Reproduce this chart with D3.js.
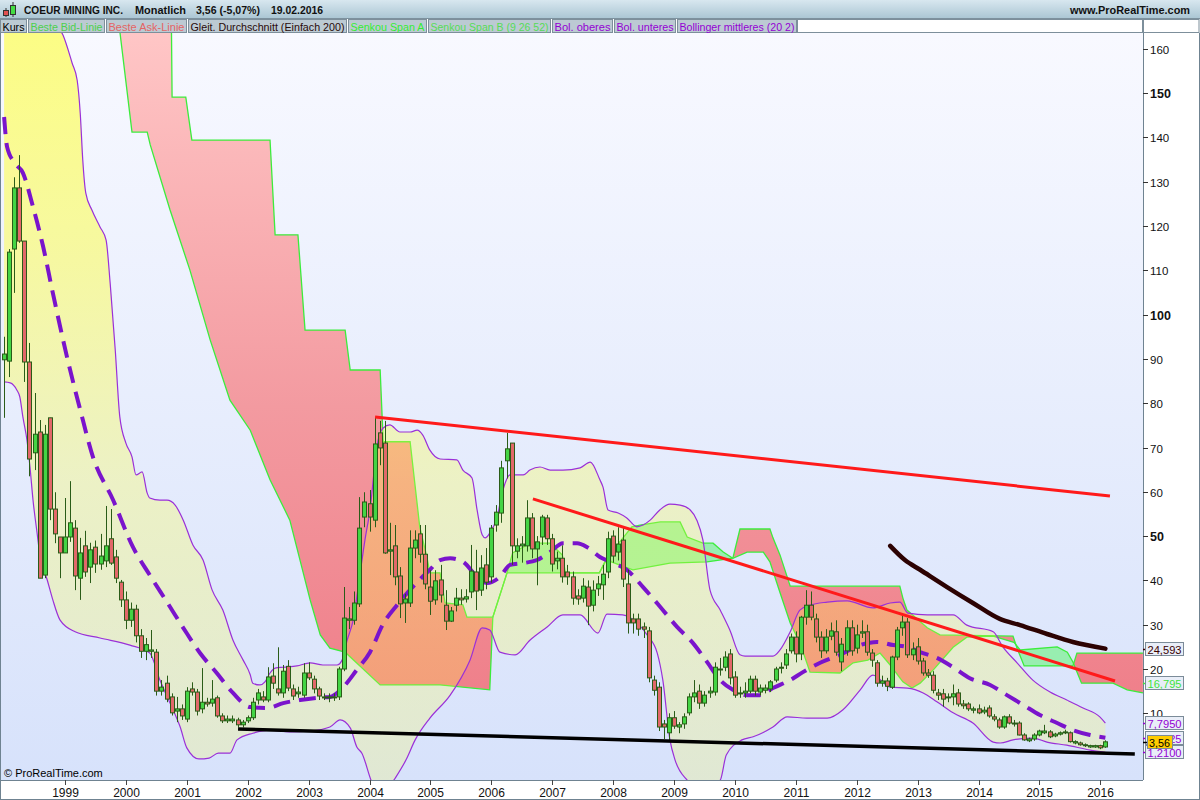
<!DOCTYPE html>
<html><head><meta charset="utf-8">
<script src="https://cdn.jsdelivr.net/npm/d3@7"></script>
<style>
html,body{margin:0;padding:0;background:#fff;overflow:hidden;}
svg{display:block;font-family:"Liberation Sans",Arial,sans-serif;}
</style></head><body>
<svg id="c" width="1200" height="800"></svg>
<script>
// ---------- DATA (monthly candles, index 0 = Jan 1998) ----------
const startYear = 1998;
const yearTicks = [1999,2000,2001,2002,2003,2004,2005,2006,2007,2008,2009,2010,2011,2012,2013,2014,2015,2016];
const priceTicks = [10,20,30,40,50,60,70,80,90,100,110,120,130,140,150,160];
const boldTicks = [50,100,150];

const opens = [89.8,89.5,114.8,128.6,116.6,89.3,68.8,73.5,41.2,76.7,56.1,49.8,46.2,49.8,51.8,40.5,47.8,43.0,47.5,43.7,
44.4,49.4,45.3,39.6,35.6,31.0,33.5,27.5,24.0,24.0,23.8,15.0,16.8,13.7,10.5,11.0,8.7,15.5,14.8,11.0,
12.5,12.3,13.5,9.4,8.3,8.3,8.5,7.4,8.3,9.0,13.0,13.7,13.0,18.4,15.5,14.6,20.6,15.5,14.4,14.1,
19.1,17.7,15.5,13.7,13.5,13.5,13.7,20.0,31.0,31.0,34.7,54.3,57.3,53.6,73.3,71.0,46.6,47.8,41.0,34.9,
34.9,47.3,50.5,45.9,38.5,35.6,40.1,34.4,30.8,34.4,36.0,35.8,37.4,41.9,37.8,43.5,40.8,52.5,55.2,67.0,
71.0,46.6,47.8,47.8,54.1,47.1,49.8,54.1,49.4,44.4,45.0,41.9,40.8,36.5,36.0,38.5,34.4,38.1,39.0,41.9,
50.0,46.4,49.1,39.2,31.3,31.3,29.5,28.6,17.5,15.9,7.6,5.6,9.0,6.9,7.6,10.1,13.7,15.0,12.3,14.6,
14.8,19.8,20.4,23.4,18.2,14.4,14.6,15.0,17.7,14.8,15.2,15.5,17.5,20.2,20.9,24.1,27.2,23.4,31.7,34.4,
31.3,27.2,24.1,27.4,28.4,21.6,24.1,29.3,24.7,28.1,28.4,23.6,21.4,16.8,17.3,15.9,22.7,29.3,30.6,23.2,
25.0,21.8,19.1,18.6,14.6,14.4,13.5,13.7,14.6,12.1,12.1,10.7,11.0,10.3,11.2,9.2,8.5,6.9,9.2,7.6,
7.8,5.1,3.8,4.2,5.1,5.6,5.8,4.9,5.3,5.6,5.6,3.3,3.3,2.7,2.4,2.4,2.7,2.4];
const highs = [95.0,114.8,131.0,136.0,116.6,93.6,82.3,76.2,75.1,76.7,59.9,49.8,58.6,62.4,53.6,49.6,51.2,48.5,49.0,50.5,
56.8,56.1,46.9,40.1,37.5,35.0,34.5,29.0,27.0,28.8,24.5,17.5,18.5,14.5,13.7,12.0,15.9,17.0,15.5,20.2,
13.5,17.5,14.0,10.0,9.5,9.5,9.0,8.5,9.5,13.5,15.5,15.0,20.4,21.3,24.9,20.9,22.0,16.5,16.0,21.3,
21.5,18.5,16.0,14.5,14.5,14.5,20.5,38.5,34.0,37.5,58.8,59.9,60.4,76.9,76.0,76.0,53.0,52.5,43.0,37.0,
51.3,51.3,52.5,52.5,42.3,42.3,43.5,37.8,34.0,38.3,38.0,38.0,48.0,46.9,45.7,47.3,52.5,57.0,67.0,73.3,
71.0,49.5,50.0,58.1,55.2,50.0,54.8,54.8,50.5,46.5,47.9,43.5,42.0,38.0,40.5,40.0,40.0,41.0,43.5,51.0,
51.3,52.0,52.0,42.4,32.5,32.5,30.5,29.5,18.5,17.0,8.5,10.0,10.5,8.0,10.0,14.5,17.5,16.5,15.0,16.0,
21.5,22.5,24.0,24.5,19.5,16.0,17.0,18.5,18.5,16.5,16.5,17.5,20.5,21.5,24.5,28.0,28.5,32.0,37.8,37.5,
32.5,28.5,29.0,30.5,31.0,27.0,31.0,31.0,30.0,31.0,30.0,24.5,22.0,18.5,18.0,23.0,29.5,32.0,31.5,26.0,
27.0,22.5,20.0,19.5,15.5,15.5,14.5,16.5,15.5,13.0,12.5,11.5,12.0,11.5,11.8,9.8,9.0,9.5,9.8,8.5,
8.2,5.5,4.5,5.5,6.3,7.4,6.2,5.6,5.9,6.3,5.9,3.9,3.6,3.2,2.9,2.9,2.9,3.9];
const lows = [76.7,85.9,104.9,116.2,84.8,63.5,64.9,40.5,40.5,53.6,48.4,40.5,46.2,48.7,37.8,35.6,40.8,39.4,41.7,42.4,
43.0,43.5,39.4,34.0,29.0,29.5,26.0,22.5,22.0,22.5,14.0,14.0,12.5,9.5,8.0,8.5,8.0,14.0,9.5,10.0,
11.5,11.5,9.0,7.8,7.8,7.8,6.8,6.8,7.8,8.5,12.0,12.5,12.5,15.5,14.0,13.5,15.0,13.0,13.5,13.5,
17.5,14.5,13.0,13.0,12.5,12.8,13.0,19.5,29.0,30.0,34.0,52.0,51.0,52.0,66.0,46.0,41.2,38.9,31.5,30.4,
34.0,45.0,44.0,38.0,32.2,34.5,35.0,28.8,30.6,33.0,34.5,35.0,36.0,33.3,36.5,38.0,39.5,51.0,53.0,63.0,
43.5,45.0,44.0,46.5,45.0,38.9,48.0,48.0,42.0,42.5,39.5,39.0,34.5,34.5,35.0,29.9,33.0,36.5,35.6,40.5,
44.0,44.5,38.5,28.0,28.0,27.5,27.0,17.0,14.0,6.0,4.2,4.0,6.5,5.5,6.5,9.5,12.5,11.0,11.5,13.5,
14.0,18.5,19.5,16.5,13.5,13.5,13.5,14.5,14.0,14.0,14.5,14.8,17.0,19.0,20.0,23.5,21.5,22.0,30.0,31.0,
26.0,22.5,23.5,26.5,23.0,19.5,23.0,23.0,23.5,27.0,23.0,20.5,16.0,16.0,15.0,15.5,22.0,27.5,22.5,22.0,
21.0,18.5,18.0,14.5,13.0,11.5,12.5,11.8,11.5,11.0,10.5,10.0,9.8,9.8,9.0,8.2,6.5,6.5,7.5,7.0,
5.0,3.8,3.5,3.8,4.8,5.3,4.4,4.6,5.0,5.3,3.4,3.0,2.7,2.4,2.2,2.2,1.9,2.2];
const closes = [91.1,114.1,128.6,116.6,89.3,67.4,73.0,40.5,73.0,56.1,50.5,46.2,49.8,53.0,41.0,46.2,41.9,46.9,43.7,45.5,
47.8,43.9,40.5,35.6,31.0,33.5,27.5,24.0,25.5,24.3,15.0,15.9,13.2,10.1,11.0,9.4,15.0,14.8,10.5,12.5,
12.1,13.2,9.4,8.3,8.7,8.7,7.4,8.0,9.0,12.5,14.6,13.0,18.2,16.8,14.6,19.5,15.7,13.9,14.8,19.1,
18.0,15.5,13.9,13.5,13.7,13.7,20.0,31.5,31.3,34.9,51.8,57.7,54.3,70.8,69.9,46.2,46.9,40.8,34.7,35.8,
47.3,49.1,45.9,39.2,35.3,39.9,36.7,30.8,33.1,36.0,35.6,36.3,42.1,37.6,42.8,39.6,51.8,55.4,65.4,69.7,
47.8,47.8,48.2,54.1,47.1,48.7,54.3,49.4,43.7,45.0,40.8,40.8,36.0,35.8,38.7,34.2,37.8,39.2,41.4,49.4,
45.5,48.2,40.3,30.4,30.4,29.0,29.0,18.0,15.2,6.9,6.9,9.0,7.1,7.4,9.2,13.7,14.6,12.3,14.1,15.0,
20.4,20.0,22.7,18.0,14.1,14.6,15.0,17.7,15.0,15.7,15.7,17.1,20.0,20.4,23.4,27.2,23.4,31.7,34.4,31.7,
27.2,24.1,27.2,28.6,23.8,25.6,29.3,24.1,27.7,28.4,23.8,22.0,16.8,17.3,16.1,22.7,28.8,30.6,23.2,24.5,
21.8,19.1,18.6,15.2,14.1,13.2,13.7,14.4,12.1,11.7,11.0,11.0,10.1,10.7,9.4,8.7,6.9,9.2,7.8,7.8,
5.1,4.0,4.2,5.1,6.0,6.0,4.7,5.3,5.6,5.8,3.6,3.6,2.9,2.9,2.7,2.7,2.2,3.56];

// Bollinger bands (20,2): [month index, value]
const bolUpper = [[0,210],[9.0,166.5],[11.6,163.1],[13.4,156.8],[14.4,152.9],[15.0,145.5],[15.5,134.9],[16.1,127.4],[17.3,123.6],[18.9,119.8],[20.1,116.8],[20.9,107.1],[21.9,92.0],[22.8,76.9],[24.0,71.0],[25.2,67.9],[26.0,63.8],[27.2,64.5],[28.2,59.7],[28.7,58.6],[30.7,58.1],[32.1,58.1],[33.7,57.0],[35.3,53.6],[37.2,48.0],[39.2,44.6],[41.0,37.8],[43.1,33.3],[45.1,26.5],[47.1,22.0],[48.5,18.7],[49.0,16.8],[50.4,16.4],[51.4,17.1],[52.4,19.1],[53.4,20.2],[55.0,20.4],[57.7,20.7],[60.3,21.4],[62.8,20.9],[65.6,20.9],[66.6,22.0],[67.6,26.5],[68.8,31.1],[70.1,41.2],[71.1,49.1],[72.1,55.9],[73.5,70.5],[74.7,74.4],[76.0,75.1],[78.0,73.5],[80.0,73.5],[81.4,73.9],[82.5,72.8],[83.9,69.4],[85.9,67.4],[89.2,67.2],[90.4,64.9],[92.2,63.1],[93.2,55.9],[94.2,50.3],[94.8,49.6],[95.7,50.7],[97.1,54.1],[98.3,60.4],[99.7,63.8],[102.3,63.8],[103.6,64.9],[105.6,65.6],[107.6,64.9],[110.1,64.9],[113.5,65.4],[115.5,66.7],[117.4,62.7],[118.0,61.1],[119.0,55.9],[121.0,55.2],[122.7,54.1],[124.7,52.1],[125.9,52.5],[127.3,53.6],[129.2,55.9],[131.2,57.2],[133.2,57.0],[135.2,55.9],[136.5,53.6],[137.7,49.1],[139.1,37.8],[141.1,33.3],[143.0,28.8],[145.0,23.2],[146.0,22.9],[151.5,22.9],[152.9,24.3],[154.9,28.4],[156.8,33.3],[158.8,34.4],[162.2,35.1],[166.1,35.4],[171.2,33.8],[174.6,34.9],[176.5,35.1],[178.1,32.6],[181.9,32.2],[187.0,32.2],[189.7,29.9],[194.9,28.4],[196.8,25.0],[199.6,21.4],[202.7,17.5],[206.1,14.8],[209.4,13.0],[212.6,11.2],[215.9,9.2],[217,7.795]];
const bolLower = [[0,84.8],[1.2,84.6],[2.5,83.0],[3.1,81.4],[3.7,76.9],[4.5,71.7],[5.1,65.6],[5.7,58.1],[6.5,50.7],[7.1,45.3],[8.5,40.1],[9.6,35.6],[11.0,31.1],[14.0,28.4],[18.9,27.0],[24.8,25.4],[28.7,23.6],[30.7,17.5],[32.7,12.3],[34.7,6.9],[36.0,2.2],[38.4,-0.3],[40.4,-0.1],[42.2,1.0],[44.5,1.0],[45.9,4.0],[49.0,5.5],[52.4,6.2],[56.3,5.8],[60.3,6.0],[64.2,6.9],[66.2,8.5],[68.2,6.7],[69.5,2.4],[70.5,1.0],[72.3,-5.1],[74.1,-9.6],[76.8,-5.1],[79.2,-0.5],[81.0,4.0],[83.9,8.9],[87.9,14.1],[91.8,22.0],[94.2,29.3],[95.7,28.8],[97.7,23.8],[100.7,23.2],[103.6,26.5],[107.0,29.5],[110.1,32.2],[113.5,32.2],[117.0,28.1],[118.8,32.4],[121.9,32.2],[124.7,30.4],[126.7,27.7],[128.7,23.6],[129.8,17.5],[131.2,4.0],[132.2,-0.5],[134.6,-5.1],[137.1,-7.3],[141.1,-5.1],[142.3,0.6],[145.4,4.0],[147.6,4.7],[151.5,6.9],[154.3,9.2],[158.2,8.9],[162.2,8.9],[165.3,10.8],[168.7,15.3],[171.2,18.6],[174.6,15.9],[178.0,15.7],[181.1,14.6],[183.8,12.6],[187.0,10.1],[190.9,7.8],[194.9,3.5],[196.3,3.3],[198.8,4.0],[202.7,4.4],[205.5,3.5],[209.4,2.8],[214.0,1.7],[217,1.21]];
const bolMiddle = [[0,144.6],[0.6,137.8],[2.1,134.2],[3.7,132.0],[5.7,124.3],[7.7,115.3],[9.6,104.9],[12.4,90.4],[15.0,78.5],[17.5,67.9],[21.5,58.1],[25.4,47.5],[28.7,41.2],[32.1,35.1],[35.3,29.3],[38.6,23.6],[41.9,19.1],[45.1,14.6],[48.5,11.4],[51.8,11.2],[55.0,12.3],[58.3,13.0],[61.7,13.5],[64.2,13.7],[66.8,15.9],[69.5,19.8],[72.1,23.8],[74.7,30.2],[77.4,34.4],[81.4,39.6],[83.9,42.4],[85.9,44.6],[87.9,45.0],[90.4,44.2],[93.2,40.8],[95.2,39.4],[97.7,40.8],[99.7,43.5],[102.3,43.9],[105.0,44.6],[107.6,46.4],[110.1,48.4],[112.9,48.4],[114.9,47.5],[117.4,45.3],[119.4,44.2],[122.7,42.4],[125.9,38.5],[129.3,34.0],[132.6,29.5],[135.7,25.9],[138.5,21.6],[141.1,17.5],[143.6,15.3],[146.4,14.1],[148.9,14.1],[151.5,15.7],[154.9,17.5],[157.4,19.3],[160.8,21.4],[164.7,23.2],[168.7,25.4],[172.0,26.1],[175.2,25.4],[177.9,25.0],[180.5,23.8],[183.8,22.5],[187.0,20.4],[190.3,17.9],[194.3,16.4],[197.6,14.1],[200.8,11.9],[204.1,9.6],[207.5,7.8],[210.6,6.2],[214.0,5.1],[217,4.5025]];

// Ichimoku Senkou spans (9 26 52), displaced: [month index, value]
const senkouA = [[22.84,163.6],[25.2,141.2],[28.2,141.2],[28.8,138.3],[32.7,123.6],[36.6,110.1],[40.6,94.3],[44.5,80.7],[48.5,73.9],[52.4,62.7],[56.3,53.6],[60.3,35.6],[62.3,27.7],[64.2,24.7],[67.2,23.8],[74.1,16.4],[85.9,16.4],[95.7,15.3],[96.3,31.7],[99.1,41.7],[100.2,46.2],[103.7,48.4],[107.6,48.4],[110.0,45.7],[110.6,41.7],[117.3,41.7],[118.7,45.0],[123.7,52.1],[125.3,52.5],[129.3,53.2],[133.2,53.2],[134.6,49.8],[137.7,48.4],[139.7,48.4],[141.7,46.4],[143.6,45.0],[146.4,46.4],[149.6,46.4],[150.9,44.2],[152.9,37.2],[154.9,30.4],[156.8,25.9],[158.8,19.3],[164.7,19.1],[167.3,21.4],[170.2,22.0],[172.6,23.6],[174.6,20.9],[177.1,17.1],[178.9,15.7],[180.5,16.8],[183.1,19.8],[187.0,24.9],[189.7,27.2],[194.9,27.4],[199.0,26.0],[200.2,24.3],[207.5,25.0],[209.5,23.8],[210.6,21.6],[212.3,16.8],[218.5,16.8],[221.3,15.3],[224.4,14.6]];
const senkouB = [[22.84,200],[32.7,200],[33.1,149.1],[35.8,149.1],[37.0,139.4],[52.4,139.4],[53.4,118.0],[57.9,118.0],[59.3,96.5],[67.2,96.5],[68.2,87.5],[74.1,87.5],[74.7,71.3],[80.0,71.3],[81.9,52.1],[83.3,45.3],[83.9,41.7],[85.9,41.7],[86.9,34.9],[90.4,34.5],[91.2,31.7],[96.3,31.7],[99.1,41.7],[117.3,41.7],[118.7,44.6],[123.9,42.4],[129.3,43.5],[131.2,43.9],[138.5,44.2],[143.6,45.0],[145.0,51.6],[150.9,51.6],[151.5,49.6],[152.9,45.7],[154.3,40.8],[154.9,38.7],[176.5,38.7],[177.1,36.0],[177.9,33.3],[181.9,29.3],[184.4,27.7],[198.8,27.4],[199.6,24.7],[201.0,20.7],[210.6,20.7],[211.4,23.6],[224.4,23.6]];

// Simple moving average 200
const sma200 = [[174.6,47.8],[177.5,44.6],[180.5,42.4],[185.8,38.5],[190.9,34.9],[196.2,31.3],[200.2,29.9],[205.5,27.9],[210.6,26.1],[217,24.593]];

// Trend lines [month index, value]
const redLine1 = [[73.1,76.9],[217.9,59.05]];
const redLine2 = [[104.2,58.4],[218.9,17.3]];
const blackLine = [[46.1,6.46],[222.8,0.81]];

// right-side value labels
const valueLabels = [
  {v:24.593, t:"24,593", c:"#3a0000", bg:"#e9eef8"},
  {v:16.795, t:"16,795", c:"#3ee43e", bg:"#e9eef8"},
  {v:7.795,  t:"7,7950", c:"#9400d3", bg:"#e9eef8"},
  {v:4.5025, t:"4,5025", c:"#9400d3", bg:"#e9eef8"},
  {v:1.21,   t:"1,2100", c:"#9400d3", bg:"#e9eef8"},
  {v:3.56,   t:"3,56",   c:"#000000", bg:"#ffcc00"}
];
const headerTexts = [["COEUR MINING INC.",24,99],["Monatlich",135,51],["3,56 (-5,07%)",196,64],["19.02.2016",271,52]];
const legendItems = [
  {t:"Kurs", c:"#000000", x0:0, x1:27},
  {t:"Beste Bid-Linie", c:"#4cd04c", x0:28, x1:105},
  {t:"Beste Ask-Linie", c:"#e46464", x0:106, x1:187},
  {t:"Gleit. Durchschnitt (Einfach 200)", c:"#2a0a0a", x0:188, x1:347},
  {t:"Senkou Span A", c:"#34ec34", x0:348, x1:427},
  {t:"Senkou Span B (9 26 52)", c:"#56dc56", x0:428, x1:551},
  {t:"Bol. oberes", c:"#9400d3", x0:552, x1:613},
  {t:"Bol. unteres", c:"#9400d3", x0:614, x1:676},
  {t:"Bollinger mittleres (20 2)", c:"#9400d3", x0:677, x1:797}
];

// ---------- DRAW ----------
const PR = 1143, PT = 33, PB = 780;
const svg = d3.select('#c');
const x = d3.scaleLinear().domain([0,217]).range([4.1, 4.1 + 5.075*217]);
const y = d3.scaleLinear().domain([0,160]).range([757.6, 48.8]);
const defs = svg.append('defs');
function lg(id, stops, y1, y2){
  const g = defs.append('linearGradient').attr('id',id).attr('gradientUnits','userSpaceOnUse')
    .attr('x1',0).attr('x2',0).attr('y1',y1).attr('y2',y2);
  stops.forEach(s=>g.append('stop').attr('offset',s[0]).attr('stop-color',s[1]).attr('stop-opacity', s[2]==null?1:s[2]));
}
lg('bg', [[0,'#f8f9ff'],[1,'#d7e2fb']], PT, PB);
lg('redc', [[0,'#ffc6c6'],[0.5,'#f39aa0'],[1,'#ee7884']], PT, PB);
lg('bbf', [[0,'#ffff3a',0.62],[0.3,'#ffff3c',0.48],[0.6,'#ffff44',0.3],[1,'#ffff48',0.22]], PT, PB);
lg('hdr', [[0,'#d8e7ef'],[1,'#a9c5d3']], 0, 19);

defs.append('clipPath').attr('id','plotClip').append('rect').attr('x',0).attr('y',PT).attr('width',PR).attr('height',PB-PT);

svg.append('rect').attr('x',0).attr('y',0).attr('width',1200).attr('height',800).attr('fill','#ffffff');
svg.append('rect').attr('x',0).attr('y',PT).attr('width',PR).attr('height',PB-PT).attr('fill','url(#bg)');

const plot = svg.append('g').attr('clip-path','url(#plotClip)');

// ---- Ichimoku cloud ----
const areaAbove = d3.area().x(d=>x(d[0])).y0(-100).y1(d=>y(d[1]));
const areaBelow = d3.area().x(d=>x(d[0])).y0(1000).y1(d=>y(d[1]));
defs.append('clipPath').attr('id','aboveA').append('path').attr('d', areaAbove(senkouA));
defs.append('clipPath').attr('id','belowA').append('path').attr('d', areaBelow(senkouA));
defs.append('clipPath').attr('id','aboveB').append('path').attr('d', areaAbove(senkouB));
defs.append('clipPath').attr('id','belowB').append('path').attr('d', areaBelow(senkouB));
plot.append('g').attr('clip-path','url(#aboveA)')
  .append('rect').attr('clip-path','url(#belowB)')
  .attr('x',0).attr('y',PT).attr('width',PR).attr('height',PB-PT).attr('fill','url(#redc)');
plot.append('g').attr('clip-path','url(#aboveB)')
  .append('rect').attr('clip-path','url(#belowA)')
  .attr('x',0).attr('y',PT).attr('width',PR).attr('height',PB-PT).attr('fill','#98eeb0');

const ln = d3.line().x(d=>x(d[0])).y(d=>y(d[1]));
plot.append('path').attr('d', ln(senkouA)).attr('fill','none').attr('stroke','#3cec3c').attr('stroke-width',1.3);
plot.append('path').attr('d', ln(senkouB)).attr('fill','none').attr('stroke','#3cec3c').attr('stroke-width',1.3);

// ---- Bollinger ----
const curve = d3.line().x(d=>x(d[0])).y(d=>y(d[1])).curve(d3.curveMonotoneX);
const bbPoly = curve(bolUpper) + 'L' + curve(bolLower.slice().reverse()).slice(1) + 'Z';
plot.append('path').attr('d', bbPoly).attr('fill','url(#bbf)').attr('stroke','none');
plot.append('path').attr('d', curve(bolUpper)).attr('fill','none').attr('stroke','#9a30d8').attr('stroke-width',1.2);
plot.append('path').attr('d', curve(bolLower)).attr('fill','none').attr('stroke','#9a30d8').attr('stroke-width',1.2);
plot.append('path').attr('d', curve(bolMiddle)).attr('fill','none').attr('stroke','#7a14cc')
  .attr('stroke-width',4).attr('stroke-dasharray','17,9');

// ---- candles ----
const idx = d3.range(opens.length);
const cg = plot.append('g');
cg.selectAll('line.w').data(idx).join('line').attr('class','w')
  .attr('x1',i=>Math.round(x(i))+0.5).attr('x2',i=>Math.round(x(i))+0.5)
  .attr('y1',i=>y(highs[i])).attr('y2',i=>y(lows[i]))
  .attr('stroke','#2a5c18').attr('stroke-width',1);
cg.selectAll('rect.b').data(idx).join('rect').attr('class','b')
  .attr('x',i=>Math.round(x(i))-1.5)
  .attr('y',i=>y(Math.max(opens[i],closes[i])))
  .attr('width',4)
  .attr('height',i=>Math.max(1, y(Math.min(opens[i],closes[i])) - y(Math.max(opens[i],closes[i]))))
  .attr('fill',i=>closes[i]>=opens[i] ? '#44d444' : '#e2686a')
  .attr('stroke','#2a5c18').attr('stroke-width',1);

// ---- lines ----
plot.append('path').attr('d', d3.line().x(d=>x(d[0])).y(d=>y(d[1])).curve(d3.curveMonotoneX)(sma200))
  .attr('fill','none').attr('stroke','#2c0202').attr('stroke-width',4.5).attr('stroke-linecap','round');
[redLine1, redLine2].forEach(l=>plot.append('path').attr('d', ln(l)).attr('fill','none').attr('stroke','#ff1a1a').attr('stroke-width',3));
plot.append('path').attr('d', ln(blackLine)).attr('fill','none').attr('stroke','#000').attr('stroke-width',3.5);

svg.append('text').attr('x',4).attr('y',777).attr('font-size',11).attr('fill','#000').text('© ProRealTime.com');

// ---- right axis ----
svg.append('rect').attr('x',PR).attr('y',PT).attr('width',1200-PR).attr('height',PB-PT).attr('fill','#ffffff');
svg.append('line').attr('x1',PR+0.5).attr('x2',PR+0.5).attr('y1',PT).attr('y2',PB).attr('stroke','#6f8391');
const ra = svg.append('g');
priceTicks.forEach(v=>{
  const yy = Math.round(y(v))+0.5;
  ra.append('line').attr('x1',PR).attr('x2',PR+5).attr('y1',yy).attr('y2',yy).attr('stroke','#333');
  const b = boldTicks.includes(v);
  ra.append('text').attr('x',PR+7).attr('y',yy+4.5).attr('font-size', b?12.5:11.5)
    .attr('font-weight', b?'bold':'normal').attr('fill','#111').text(v);
});
valueLabels.forEach(l=>{
  const yy = Math.round(y(l.v));
  const small = l.t==='3,56';
  const w = small ? 25 : 38;
  ra.append('line').attr('x1',PR).attr('x2',PR+5).attr('y1',yy+0.5).attr('y2',yy+0.5).attr('stroke',l.c).attr('stroke-width',1.5);
  ra.append('rect').attr('x',PR+(small?4.5:2.5)).attr('y',yy-6.5).attr('width',w).attr('height',13)
    .attr('fill',l.bg).attr('stroke','#7b8b98');
  ra.append('text').attr('x',PR+(small?6:4.5)).attr('y',yy+4.5).attr('font-size',11.5).attr('fill',l.c)
    .attr('textLength', small?21:34).attr('lengthAdjust','spacingAndGlyphs').text(l.t);
});

// ---- bottom axis ----
svg.append('rect').attr('x',0).attr('y',PB).attr('width',1200).attr('height',800-PB).attr('fill','#ffffff');
svg.append('line').attr('x1',0).attr('x2',PR).attr('y1',PB+0.5).attr('y2',PB+0.5).attr('stroke','#6f8391');
const ba = svg.append('g');
yearTicks.forEach(yr=>{
  const xx = Math.round(x((yr-startYear)*12))+0.5;
  ba.append('line').attr('x1',xx).attr('x2',xx).attr('y1',PB).attr('y2',PB+5).attr('stroke','#444');
  ba.append('text').attr('x',xx).attr('y',797).attr('text-anchor','middle').attr('font-size',12).attr('fill','#111').text(yr);
});
svg.append('line').attr('x1',0.5).attr('x2',0.5).attr('y1',PT).attr('y2',800).attr('stroke','#6f8391');
svg.append('line').attr('x1',1199.5).attr('x2',1199.5).attr('y1',19).attr('y2',800).attr('stroke','#6f8391');
svg.append('line').attr('x1',0).attr('x2',1200).attr('y1',799.5).attr('y2',799.5).attr('stroke','#6f8391');

// ---- header ----
svg.append('rect').attr('x',0).attr('y',0).attr('width',1200).attr('height',19).attr('fill','url(#hdr)');
svg.append('line').attr('x1',0).attr('x2',1200).attr('y1',18.5).attr('y2',18.5).attr('stroke','#7d919e');
svg.append('line').attr('x1',6).attr('x2',6).attr('y1',8).attr('y2',17).attr('stroke','#333');
svg.append('rect').attr('x',3.5).attr('y',10.5).attr('width',5).attr('height',5).attr('fill','#e05050').attr('stroke','#333');
svg.append('line').attr('x1',13).attr('x2',13).attr('y1',2).attr('y2',17).attr('stroke','#333');
svg.append('rect').attr('x',10.5).attr('y',5.5).attr('width',5).attr('height',9).attr('fill','#44dd44').attr('stroke','#333');
headerTexts.forEach(h=>svg.append('text').attr('x',h[1]).attr('y',14).attr('font-size',11).attr('font-weight','bold')
  .attr('fill','#111').attr('textLength',h[2]).attr('lengthAdjust','spacingAndGlyphs').text(h[0]));
svg.append('text').attr('x',1070).attr('y',14).attr('font-size',11).attr('font-weight','bold')
  .attr('fill','#111').attr('textLength',120).attr('lengthAdjust','spacingAndGlyphs').text('www.ProRealTime.com');

// ---- legend row ----
svg.append('rect').attr('x',0).attr('y',19).attr('width',1200).attr('height',14).attr('fill','#ffffff');
legendItems.forEach(l=>{
  svg.append('rect').attr('x',l.x0+0.5).attr('y',19.5).attr('width',l.x1-l.x0-1).attr('height',13)
    .attr('fill','#bccad3').attr('stroke','#7d8f9b');
  svg.append('text').attr('x',l.x0+2.5).attr('y',30.5).attr('font-size',11.5).attr('fill',l.c)
    .attr('textLength', l.x1-l.x0-5).attr('lengthAdjust','spacingAndGlyphs').text(l.t);
});
svg.append('rect').attr('x',797.5).attr('y',19.5).attr('width',PR-798).attr('height',13).attr('fill','#ffffff').attr('stroke','#7d8f9b');
svg.append('rect').attr('x',PR+0.5).attr('y',19.5).attr('width',1200-PR-1.5).attr('height',13).attr('fill','#ffffff').attr('stroke','#7d8f9b');
</script>
</body></html>
